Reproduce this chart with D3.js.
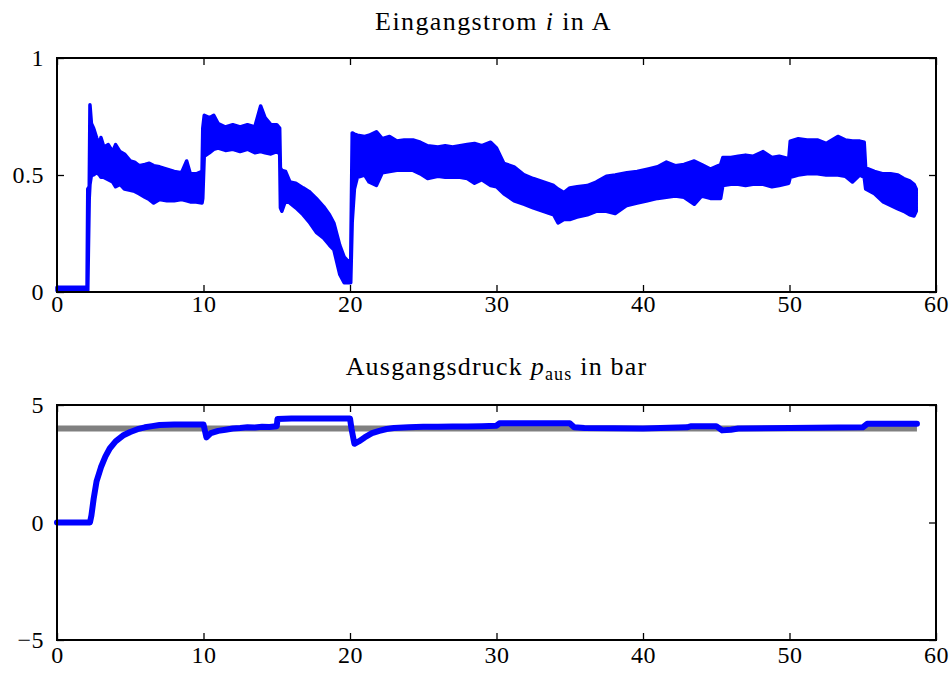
<!DOCTYPE html>
<html>
<head>
<meta charset="utf-8">
<script src="https://cdn.jsdelivr.net/npm/d3@7"></script>
<style>
  html, body { margin: 0; padding: 0; background: #fff; }
  svg { display: block; }
  text { font-family: "Liberation Serif", "Times New Roman", "DejaVu Serif", serif; fill: #000; }
</style>
</head>
<body>
<svg id="chart" width="952" height="675"></svg>
<script>
// Eingangsstrom: time stamps with upper / lower envelope of the measured current (A)
const currentTime = [0, 2.05, 2.1, 2.2, 2.25, 2.35, 2.5, 2.7, 2.9, 3.0, 3.2, 3.5, 3.8, 4.0, 4.3, 4.6, 5.0, 5.3, 5.6, 6.0, 6.3, 6.6, 7.0, 7.5, 8.0, 8.5, 8.85, 9.1, 9.5, 9.9, 9.95, 10.05, 10.4, 10.7, 11.0, 11.5, 12.0, 12.5, 13.0, 13.5, 13.9, 14.2, 14.6, 15.0, 15.2, 15.25, 15.35, 15.6, 15.9, 16.3, 16.8, 17.2, 17.7, 18.2, 18.6, 18.9, 19.3, 19.6, 19.9, 20.05, 20.15, 20.3, 20.5, 21.0, 21.3, 21.8, 22.2, 22.7, 23.2, 23.7, 24.3, 24.8, 25.3, 26.0, 26.5, 27.0, 27.5, 28.0, 28.5, 29.0, 29.6, 30.0, 30.5, 31.2, 31.9, 32.5, 33.2, 33.9, 34.2, 34.6, 35.0, 35.5, 36.2, 36.8, 37.5, 38.1, 38.9, 39.6, 40.3, 41.0, 41.6, 42.2, 42.8, 43.5, 44.0, 44.6, 45.3, 45.45, 46.0, 46.5, 47.0, 47.5, 48.2, 48.8, 49.3, 49.95, 50.05, 50.6, 51.2, 51.9, 52.5, 53.3, 53.8, 54.3, 54.8, 55.1, 55.2, 55.8, 56.4, 56.9, 57.4, 57.8, 58.2, 58.5, 58.65];
const currentUpper = [0.02, 0.02, 0.44, 0.45, 0.80, 0.72, 0.70, 0.66, 0.63, 0.66, 0.62, 0.63, 0.60, 0.63, 0.60, 0.59, 0.56, 0.555, 0.54, 0.545, 0.55, 0.54, 0.535, 0.525, 0.515, 0.51, 0.56, 0.505, 0.505, 0.515, 0.70, 0.755, 0.745, 0.755, 0.72, 0.705, 0.715, 0.705, 0.715, 0.705, 0.795, 0.745, 0.715, 0.715, 0.70, 0.53, 0.52, 0.515, 0.47, 0.465, 0.445, 0.43, 0.40, 0.365, 0.33, 0.295, 0.20, 0.15, 0.13, 0.14, 0.68, 0.675, 0.67, 0.665, 0.67, 0.685, 0.655, 0.665, 0.645, 0.65, 0.65, 0.64, 0.625, 0.62, 0.625, 0.62, 0.625, 0.63, 0.635, 0.625, 0.64, 0.615, 0.55, 0.535, 0.50, 0.485, 0.47, 0.455, 0.44, 0.425, 0.445, 0.45, 0.455, 0.47, 0.495, 0.50, 0.51, 0.515, 0.525, 0.535, 0.555, 0.54, 0.545, 0.56, 0.545, 0.525, 0.545, 0.575, 0.575, 0.58, 0.585, 0.58, 0.60, 0.575, 0.58, 0.57, 0.645, 0.655, 0.65, 0.65, 0.635, 0.665, 0.65, 0.645, 0.645, 0.64, 0.53, 0.515, 0.505, 0.505, 0.50, 0.485, 0.475, 0.46, 0.44];
const currentLower = [0.005, 0.005, 0.005, 0.40, 0.46, 0.50, 0.50, 0.51, 0.50, 0.49, 0.49, 0.48, 0.47, 0.45, 0.46, 0.44, 0.435, 0.43, 0.42, 0.405, 0.395, 0.38, 0.395, 0.39, 0.39, 0.395, 0.39, 0.385, 0.385, 0.38, 0.40, 0.58, 0.595, 0.61, 0.615, 0.605, 0.61, 0.60, 0.61, 0.595, 0.60, 0.595, 0.59, 0.60, 0.59, 0.36, 0.345, 0.39, 0.38, 0.36, 0.33, 0.30, 0.255, 0.23, 0.20, 0.18, 0.075, 0.04, 0.04, 0.04, 0.30, 0.44, 0.49, 0.50, 0.47, 0.455, 0.51, 0.515, 0.52, 0.52, 0.52, 0.505, 0.485, 0.495, 0.49, 0.49, 0.49, 0.485, 0.465, 0.48, 0.455, 0.45, 0.42, 0.39, 0.375, 0.36, 0.345, 0.33, 0.295, 0.31, 0.31, 0.32, 0.33, 0.345, 0.345, 0.335, 0.37, 0.38, 0.39, 0.40, 0.405, 0.41, 0.405, 0.375, 0.41, 0.40, 0.40, 0.455, 0.46, 0.46, 0.455, 0.46, 0.46, 0.45, 0.455, 0.465, 0.49, 0.50, 0.505, 0.505, 0.50, 0.50, 0.495, 0.47, 0.50, 0.49, 0.44, 0.42, 0.385, 0.37, 0.355, 0.345, 0.33, 0.325, 0.345];

// Ausgangsdruck: measured pressure (bar)
const pressureTime = [0, 2.25, 2.35, 2.5, 2.7, 3.0, 3.3, 3.6, 4.0, 4.5, 5.0, 5.5, 6.0, 6.5, 7.0, 8.0, 9.0, 10.0, 10.1, 10.2, 10.5, 11.0, 11.5, 12.0, 12.5, 13.0, 13.5, 14.0, 14.5, 15.0, 15.05, 16.0, 18.0, 20.0, 20.1, 20.3, 20.6, 21.0, 21.5, 22.0, 22.5, 23.0, 24.0, 25.0, 26.0, 27.0, 28.0, 29.0, 30.0, 30.2, 35.0, 35.3, 36.0, 40.0, 43.0, 43.3, 45.0, 45.4, 46.0, 46.5, 50.0, 55.0, 55.3, 58.7];
const pressureValue = [0, 0, 0.3, 1.0, 1.75, 2.35, 2.8, 3.15, 3.45, 3.7, 3.85, 3.97, 4.05, 4.1, 4.15, 4.17, 4.17, 4.17, 3.9, 3.62, 3.8, 3.9, 3.95, 4.0, 4.02, 4.05, 4.04, 4.07, 4.06, 4.1, 4.4, 4.43, 4.43, 4.43, 4.0, 3.35, 3.45, 3.62, 3.8, 3.9, 3.98, 4.02, 4.05, 4.07, 4.07, 4.08, 4.09, 4.1, 4.12, 4.22, 4.22, 4.05, 4.02, 4.0, 4.05, 4.1, 4.1, 3.92, 3.95, 4.0, 4.02, 4.05, 4.2, 4.2];

// Sollwert des Drucks (bar)
const setpointTime = [0, 58.7];
const setpointValue = [4, 4];

// Axis ticks
const xTicks = [0, 10, 20, 30, 40, 50, 60];
const currentTicks = [0, 0.5, 1];
const pressureTicks = [-5, 0, 5];

const svg = d3.select("#chart");
const left = 57, right = 936;
const blue = "#0000ff", grey = "#808080";
const serif = "'Liberation Serif', 'Times New Roman', 'DejaVu Serif', serif";

const x = d3.scaleLinear().domain([0, 60]).range([left, right]);

function panel(yScale, yTicks, fmt, xPad) {
  const [yb, yt] = yScale.range();
  const g = svg.append("g");
  const tickLen = 7;
  const ax = g.append("g").attr("transform", `translate(0,${yb})`)
    .call(d3.axisBottom(x).tickValues(xTicks).tickSizeInner(-tickLen).tickSizeOuter(0).tickPadding(xPad));
  const axTop = g.append("g").attr("transform", `translate(0,${yt})`)
    .call(d3.axisTop(x).tickValues(xTicks).tickSizeInner(-tickLen).tickSizeOuter(0).tickFormat(""));
  const ay = g.append("g").attr("transform", `translate(${left},0)`)
    .call(d3.axisLeft(yScale).tickValues(yTicks).tickSizeInner(-tickLen).tickSizeOuter(0).tickPadding(13).tickFormat(fmt));
  const ayR = g.append("g").attr("transform", `translate(${right},0)`)
    .call(d3.axisRight(yScale).tickValues(yTicks).tickSizeInner(-tickLen).tickSizeOuter(0).tickFormat(""));
  [ax, axTop, ay, ayR].forEach(a => {
    a.attr("font-family", serif);
    a.select(".domain").remove();
    a.selectAll(".tick line").attr("stroke", "#000").attr("stroke-width", 1.3);
    a.selectAll(".tick text").attr("font-size", 24).attr("fill", "#000").attr("letter-spacing", 0.5);
  });
  return g;
}

function frame(yScale) {
  const [yb, yt] = yScale.range();
  svg.append("rect")
    .attr("x", left).attr("y", yt)
    .attr("width", right - left).attr("height", yb - yt)
    .attr("fill", "none").attr("stroke", "#000").attr("stroke-width", 2);
}

// ---------- Eingangsstrom ----------
const yI = d3.scaleLinear().domain([0, 1]).range([292, 58]);
panel(yI, currentTicks, d => d === 0.5 ? "0.5" : d3.format("d")(d), 3);

const currentData = currentTime.map((t, k) => ({ t, hi: currentUpper[k], lo: currentLower[k] }));
const band = d3.area()
  .x(d => x(d.t))
  .y0(d => yI(d.lo))
  .y1(d => yI(d.hi))
  .curve(d3.curveLinear);
svg.append("path")
  .datum(currentData)
  .attr("d", band)
  .attr("fill", blue)
  .attr("stroke", blue)
  .attr("stroke-width", 3.5)
  .attr("stroke-linejoin", "round");
frame(yI);

const t1 = svg.append("text").attr("x", (left + right) / 2 - 3).attr("y", 30)
  .attr("text-anchor", "middle").attr("font-size", 26).attr("letter-spacing", 1.4);
t1.append("tspan").text("Eingangstrom ");
t1.append("tspan").attr("font-style", "italic").text("i");
t1.append("tspan").text(" in A");

// ---------- Ausgangsdruck ----------
const yP = d3.scaleLinear().domain([-5, 5]).range([640, 405]);
panel(yP, pressureTicks, d3.format("d"), 6);

const line = d3.line().x(d => x(d[0])).y(d => yP(d[1]));
svg.append("path")
  .datum(setpointTime.map((t, k) => [t, setpointValue[k]]))
  .attr("d", line)
  .attr("fill", "none").attr("stroke", grey).attr("stroke-width", 6);
svg.append("path")
  .datum(pressureTime.map((t, k) => [t, pressureValue[k]]))
  .attr("d", line)
  .attr("fill", "none").attr("stroke", blue).attr("stroke-width", 6)
  .attr("stroke-linejoin", "round").attr("stroke-linecap", "round");
frame(yP);

const t2 = svg.append("text").attr("x", (left + right) / 2).attr("y", 375)
  .attr("text-anchor", "middle").attr("font-size", 26).attr("letter-spacing", 1.2);
t2.append("tspan").text("Ausgangsdruck ");
t2.append("tspan").attr("font-style", "italic").text("p");
t2.append("tspan").attr("font-size", 18).attr("dy", 5).text("aus");
t2.append("tspan").attr("dy", -5).text(" in bar");
</script>
</body>
</html>
